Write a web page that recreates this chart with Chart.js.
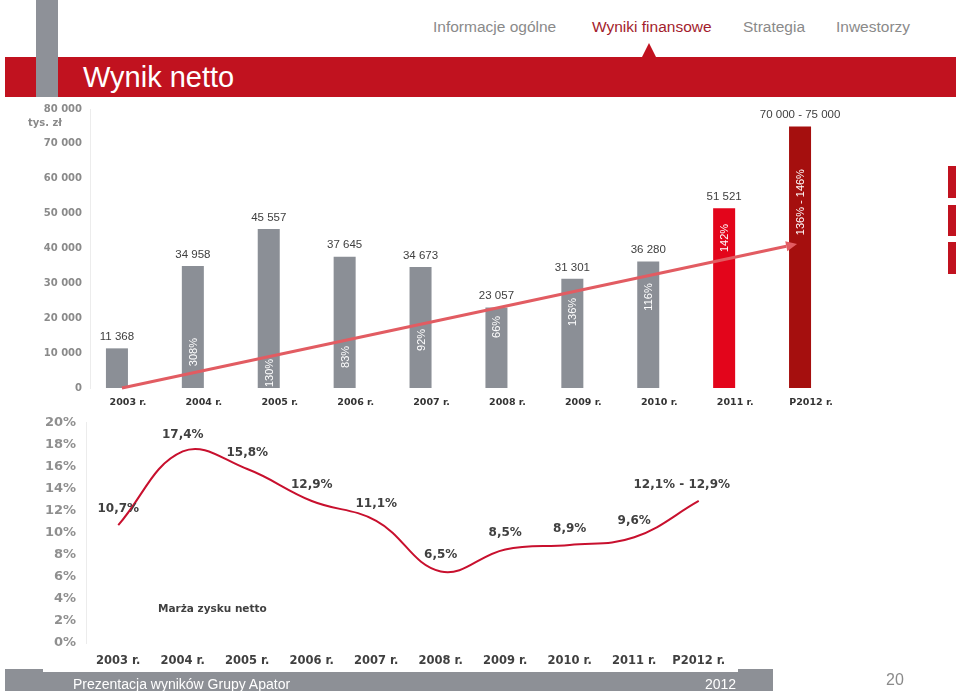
<!DOCTYPE html>
<html><head><meta charset="utf-8">
<script src="https://cdn.jsdelivr.net/npm/chart.js@4"></script>
<style>
html,body{margin:0;padding:0;background:#fff;}
body{width:960px;height:696px;position:relative;overflow:hidden;font-family:"Liberation Sans",Arial,sans-serif;}
.abs{position:absolute;white-space:nowrap;}
.nav{top:17px;font-size:15.5px;line-height:20px;color:#8a8a8a;}
canvas{position:absolute;left:0;}
</style></head><body>

<div class="abs" style="left:5px;top:57px;width:951px;height:40px;background:#c1121f;"></div>
<div class="abs" style="left:36px;top:0;width:22px;height:97px;background:#8e9198;"></div>
<div class="abs" style="left:83px;top:57px;line-height:40px;font-size:29px;color:#fff;">Wynik netto</div>
<div class="abs nav" style="left:433px;">Informacje ogólne</div>
<div class="abs nav" style="left:592px;color:#a31d2d;">Wyniki finansowe</div>
<div class="abs nav" style="left:743px;">Strategia</div>
<div class="abs nav" style="left:836px;">Inwestorzy</div>
<div class="abs" style="left:642px;top:43px;width:0;height:0;border-left:7.5px solid transparent;border-right:7.5px solid transparent;border-bottom:14px solid #c1121f;"></div>

<div class="abs" style="left:948px;top:166px;width:8px;height:32px;background:#c1121f;"></div>
<div class="abs" style="left:948px;top:205px;width:8px;height:31px;background:#c1121f;"></div>
<div class="abs" style="left:948px;top:242px;width:8px;height:32px;background:#c1121f;"></div>

<canvas id="top" width="960" height="323" style="top:95px;width:960px;height:323px;"></canvas>
<canvas id="bottom" width="960" height="266" style="top:405px;width:960px;height:266px;"></canvas>

<div class="abs" style="left:28px;top:116px;font-family:'DejaVu Sans';font-weight:bold;font-size:10px;line-height:14px;color:#8a8a8a;">tys. zł</div>
<div class="abs" style="left:158px;top:600px;font-family:'DejaVu Sans';font-weight:bold;font-size:10.5px;line-height:16px;color:#404040;">Marża zysku netto</div>

<div class="abs" style="left:5px;top:672px;width:768px;height:19px;background:#8d9096;"></div>
<div class="abs" style="left:5px;top:669px;width:38px;height:4px;background:#8d9096;"></div>
<div class="abs" style="left:738px;top:669px;width:35px;height:4px;background:#8d9096;"></div>
<div class="abs" style="left:73px;top:674px;font-size:14px;line-height:20px;color:#fff;">Prezentacja wyników Grupy Apator</div>
<div class="abs" style="left:705px;top:674px;font-size:14px;line-height:20px;color:#fff;">2012</div>
<div class="abs" style="left:886px;top:670px;font-size:16px;line-height:20px;color:#8a8a8a;">20</div>

<script>
// ---- data ----
const years = ["2003 r.","2004 r.","2005 r.","2006 r.","2007 r.","2008 r.","2009 r.","2010 r.","2011 r.","P2012 r."];
const netProfit = [11368, 34958, 45557, 37645, 34673, 23057, 31301, 36280, 51521, 75000];
const forecastRangeLabel = "70 000 - 75 000";
const growthLabels = ["", "308%", "130%", "83%", "92%", "66%", "136%", "116%", "142%", "136% - 146%"];
const marginPct = [10.7, 17.4, 15.8, 12.9, 11.1, 6.5, 8.5, 8.9, 9.6, 12.9];
const marginLabels = ["10,7%","17,4%","15,8%","12,9%","11,1%","6,5%","8,5%","8,9%","9,6%","12,1% - 12,9%"];
const profitAxisMax = 80000;
const profitAxisStep = 10000;
const marginAxisMax = 20;
const marginAxisStep = 2;

function fmtThousands(v){ return String(v).replace(/\B(?=(\d{3})+(?!\d))/g, " "); }

const GRAY = "#8b8f96", RED = "#e3051b", DARKRED = "#a50f0e";

// ---- top chart plugin: value labels, trend arrow, growth labels ----
const topLabels = {
  id: "topLabels",
  afterDatasetsDraw(chart, args, opts) {
    const ctx = chart.ctx;
    const meta = chart.getDatasetMeta(0);
    const ys = chart.scales.y;
    ctx.save();
    // value labels
    ctx.font = "11.5px 'Liberation Sans', Arial, sans-serif";
    ctx.fillStyle = "#404040";
    ctx.textAlign = "center";
    ctx.textBaseline = "middle";
    meta.data.forEach((bar, i) => {
      const txt = i === netProfit.length - 1 ? forecastRangeLabel : fmtThousands(netProfit[i]);
      ctx.fillText(txt, bar.x, bar.y - 11.5);
    });
    // trend arrow
    const b0 = meta.data[0], bN = meta.data[meta.data.length - 1];
    const x1 = b0.x + 5, y1 = ys.getPixelForValue(0);
    const x2 = bN.x - 3, y2 = ys.getPixelForValue(opts.trendTo);
    const ang = Math.atan2(y2 - y1, x2 - x1);
    const hl = 11, hw = 5;
    ctx.strokeStyle = "#e25c62";
    ctx.fillStyle = "#e25c62";
    ctx.lineWidth = 3;
    ctx.beginPath();
    ctx.moveTo(x1, y1);
    ctx.lineTo(x2 - hl * Math.cos(ang), y2 - hl * Math.sin(ang));
    ctx.stroke();
    ctx.beginPath();
    ctx.moveTo(x2, y2);
    ctx.lineTo(x2 - hl * Math.cos(ang) + hw * Math.sin(ang), y2 - hl * Math.sin(ang) - hw * Math.cos(ang));
    ctx.lineTo(x2 - hl * Math.cos(ang) - hw * Math.sin(ang), y2 - hl * Math.sin(ang) + hw * Math.cos(ang));
    ctx.closePath();
    ctx.fill();
    // growth labels (rotated)
    ctx.font = "11px 'Liberation Sans', Arial, sans-serif";
    ctx.fillStyle = "#ffffff";
    meta.data.forEach((bar, i) => {
      if (!growthLabels[i]) return;
      const yy = ys.getPixelForValue(opts.growthAt[i]);
      ctx.save();
      ctx.translate(bar.x + 1, yy);
      ctx.rotate(-Math.PI / 2);
      ctx.fillText(growthLabels[i], 0, 0);
      ctx.restore();
    });
    ctx.restore();
  }
};

new Chart(document.getElementById("top"), {
  type: "bar",
  data: {
    labels: years,
    datasets: [
      { data: netProfit,
        backgroundColor: netProfit.map((_, i) => i < 8 ? GRAY : (i === 8 ? RED : DARKRED)),
        barPercentage: 1, categoryPercentage: 0.58 },
      { data: netProfit.map(() => null), backgroundColor: "rgba(0,0,0,0)",
        barPercentage: 1, categoryPercentage: 0.58 }
    ]
  },
  options: {
    responsive: false, animation: false,
    layout: { padding: { top: 14, right: 111, bottom: 0, left: 0 } },
    plugins: {
      legend: { display: false }, tooltip: { enabled: false },
      topLabels: { trendTo: 41300, growthAt: [null, 10300, 4300, 8900, 13800, 17500, 21800, 26100, 43000, 53300] }
    },
    scales: {
      x: {
        offset: true,
        grid: { display: false, drawTicks: false },
        border: { display: false },
        ticks: { padding: 9, color: "#333333", maxRotation: 0, autoSkip: false,
                 font: { family: "DejaVu Sans", weight: "bold", size: 9.5 } },
        afterFit(s) { s.height = 30; }
      },
      y: {
        min: 0, max: profitAxisMax,
        grid: { display: false, drawTicks: false },
        border: { display: true, color: "#ececec", width: 1 },
        ticks: { stepSize: profitAxisStep, padding: 8, color: "#8a8a8a",
                 font: { family: "DejaVu Sans", weight: "bold", size: 10 },
                 callback: v => fmtThousands(v) },
        afterFit(s) { s.width = 90; }
      }
    }
  },
  plugins: [topLabels]
});

// ---- bottom chart plugin: point labels ----
const marginLabelPlugin = {
  id: "marginLabelPlugin",
  afterDatasetsDraw(chart, args, opts) {
    const ctx = chart.ctx;
    const meta = chart.getDatasetMeta(0);
    ctx.save();
    ctx.font = "bold 12px 'DejaVu Sans', sans-serif";
    ctx.fillStyle = "#404040";
    ctx.textAlign = "center";
    ctx.textBaseline = "middle";
    meta.data.forEach((pt, i) => {
      const dx = i === meta.data.length - 1 ? opts.lastShift : 0;
      ctx.fillText(marginLabels[i], pt.x + dx, pt.y - 16.5);
    });
    ctx.restore();
  }
};

new Chart(document.getElementById("bottom"), {
  type: "line",
  data: {
    labels: years,
    datasets: [{
      data: marginPct, borderColor: "#c8102e", borderWidth: 2,
      pointRadius: 0, tension: 0.4, fill: false
    }]
  },
  options: {
    responsive: false, animation: false,
    layout: { padding: { top: 15, right: 229, bottom: 0, left: 0 } },
    plugins: { legend: { display: false }, tooltip: { enabled: false },
               marginLabelPlugin: { lastShift: -17 } },
    scales: {
      x: {
        offset: true,
        grid: { display: false, drawTicks: false },
        border: { display: false },
        ticks: { padding: 11, color: "#404040", maxRotation: 0, autoSkip: false,
                 font: { family: "DejaVu Sans", weight: "bold", size: 11.5 } },
        afterFit(s) { s.height = 28; }
      },
      y: {
        min: 0, max: marginAxisMax,
        grid: { display: false, drawTicks: false },
        border: { display: true, color: "#ececec", width: 1 },
        ticks: { stepSize: marginAxisStep, padding: 10, color: "#8f8f8f",
                 font: { family: "DejaVu Sans", weight: "bold", size: 13 },
                 callback: v => v + "%" },
        afterFit(s) { s.width = 86; }
      }
    }
  },
  plugins: [marginLabelPlugin]
});
</script>
</body></html>
